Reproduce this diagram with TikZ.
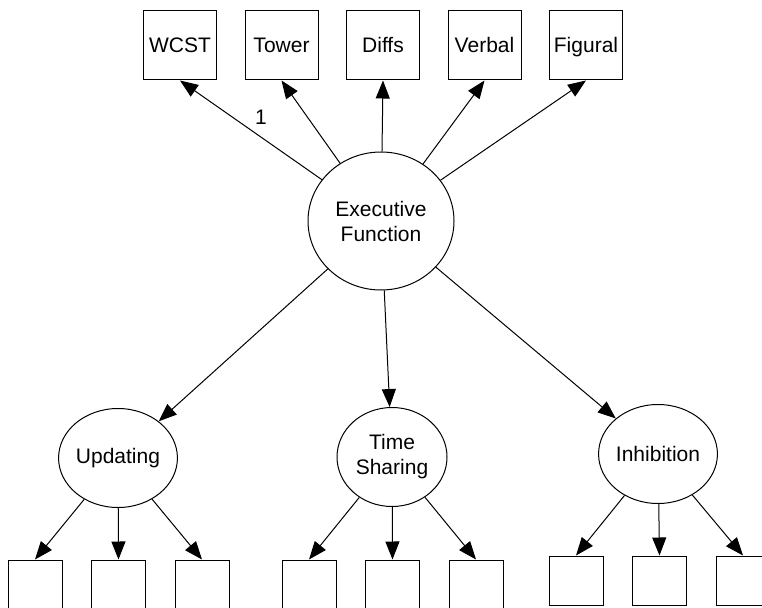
\documentclass[tikz,border=0pt]{standalone}
\usepackage{fontspec}
\setmainfont{Liberation Sans}
\usepackage{tikz}
\usetikzlibrary{positioning,shapes,arrows.meta}
\tikzstyle{lat}=[%
      ellipse, draw=black, line width=1pt, fill=none,
      align=center, inner sep=0pt, minimum width=110pt, minimum height=99pt
]
\tikzstyle{ind}=[%
      rectangle, draw=black, line width=1pt, fill=none,
      minimum width=73pt, minimum height=69pt, inner sep=0pt,
      text height=18pt, text depth=4pt
]
\tikzstyle{res}=[%
      rectangle, draw=black, line width=1pt, fill=none,
      minimum width=54pt, minimum height=49pt, inner sep=0pt
]

\begin{document}
\begin{tikzpicture}[x=1pt, y=-1pt,
    auto,
    ->,
    >={Triangle[length=18pt,width=14pt]},
    line width=1pt,
    font=\fontsize{21}{25}\selectfont
  ]
    \useasboundingbox (0,0) rectangle (762,607);
    \clip (0,0) rectangle (762,607);

    \node[lat, minimum width=146pt, minimum height=138pt] (ef) at (381,221) {Executive\\Function};

    \node[ind] (wcst)                        at (180,45.5) {WCST};
    \node[ind] (tower)   [right=27.5pt of wcst]           {Tower};
    \node[ind] (diffs)   [right=27.5pt of tower]          {Diffs};
    \node[ind] (verbal)  [right=27.5pt of diffs]          {Verbal};
    \node[ind] (figural) [right=27.5pt of verbal]         {Figural};

    \node[lat] (upd) at (118,458) {Updating};
    \node[lat] (ts)  at (392,457) {Time\\Sharing};
    \node[lat] (inh) at (658,454) {Inhibition};

    \node[res] (u1)                     at (35,584.5) {};
    \node[res] (u2) [right=28.5pt of u1]              {};
    \node[res] (u3) [right=28.5pt of u2]              {};
    \node[res] (t1)                     at (309,584.5) {};
    \node[res] (t2) [right=28.5pt of t1]               {};
    \node[res] (t3) [right=28.5pt of t2]               {};
    \node[res] (i1)                     at (576,580.5) {};
    \node[res] (i2) [right=28.5pt of i1]               {};
    \node[res] (i3) [right=28.5pt of i2]               {};

    \path (ef) edge node[pos=0.43, above=9pt] {1} (wcst.south)
          (ef) edge (tower.south)
          (ef) edge (diffs.south)
          (ef) edge (verbal.south)
          (ef) edge (figural.south)
          (ef) edge (upd)
          (ef) edge (ts)
          (ef) edge (inh)
          (upd) edge (u1.north)
          (upd) edge (u2.north)
          (upd) edge (u3.north)
          (ts) edge (t1.north)
          (ts) edge (t2.north)
          (ts) edge (t3.north)
          (inh) edge (i1.north)
          (inh) edge (i2.north)
          (inh) edge (i3.north)
    ;

  \end{tikzpicture}
\end{document}
